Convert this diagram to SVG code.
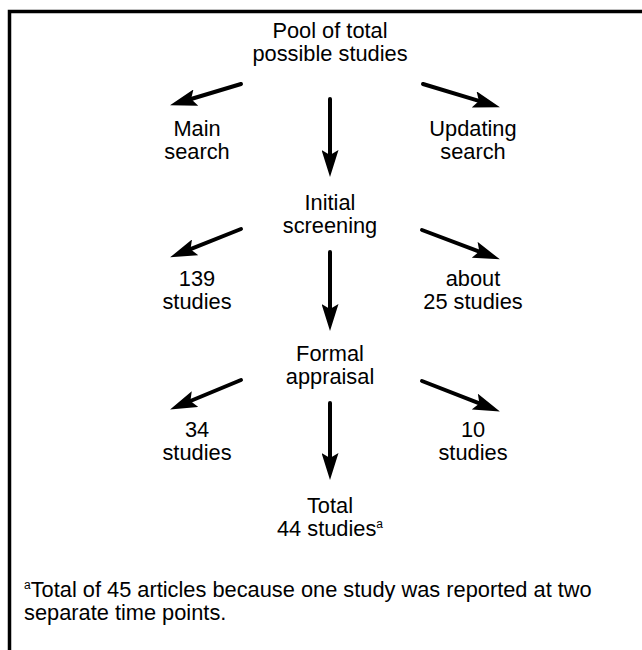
<svg xmlns="http://www.w3.org/2000/svg" width="642" height="650" viewBox="0 0 642 650">
<style>
text{font-family:"Liberation Sans",Arial,Helvetica,sans-serif;font-size:21.8px;fill:#000;text-anchor:middle}
.fn{text-anchor:start}
.sup{font-size:12px}
.c{stroke:#000;stroke-width:4;fill:none;stroke-linecap:round}
.b{stroke:#000;stroke-width:3.5;fill:none}
</style>
<defs>
<marker id="ah" markerUnits="userSpaceOnUse" markerWidth="27" markerHeight="17" viewBox="0 0 27 17" refX="5" refY="8.5" orient="auto">
<path d="M0,0 L27,8.5 L0,17 L5,8.5 Z" fill="#000"/>
</marker>
</defs>
<rect width="642" height="650" fill="#fff"/>
<path class="b" d="M9.5,650 V11.5 H642"/>
<g id="connectors">
<line class="c" x1="241" y1="84" x2="191.1" y2="99" marker-end="url(#ah)"/>
<line class="c" x1="423" y1="84" x2="478.9" y2="100.9" marker-end="url(#ah)"/>
<line class="c" x1="330" y1="99" x2="330" y2="155" marker-end="url(#ah)"/>
<line class="c" x1="241" y1="229" x2="190.5" y2="249.2" marker-end="url(#ah)"/>
<line class="c" x1="422" y1="230" x2="479.3" y2="251.6" marker-end="url(#ah)"/>
<line class="c" x1="330" y1="252" x2="330" y2="309" marker-end="url(#ah)"/>
<line class="c" x1="241" y1="380" x2="190.4" y2="401" marker-end="url(#ah)"/>
<line class="c" x1="422" y1="381" x2="479.4" y2="403.4" marker-end="url(#ah)"/>
<line class="c" x1="330" y1="403" x2="330" y2="458" marker-end="url(#ah)"/>
</g>
<g id="pool"><text x="330" y="37.5">Pool of total</text><text x="330" y="60.5">possible studies</text></g>
<g id="main"><text x="197" y="136">Main</text><text x="197" y="159">search</text></g>
<g id="updating"><text x="473" y="136">Updating</text><text x="473" y="159">search</text></g>
<g id="initial"><text x="330" y="209.5">Initial</text><text x="330" y="232.5">screening</text></g>
<g id="s139"><text x="197" y="286">139</text><text x="197" y="309">studies</text></g>
<g id="about25"><text x="473" y="286">about</text><text x="473" y="309">25 studies</text></g>
<g id="formal"><text x="330" y="360.5">Formal</text><text x="330" y="383.5">appraisal</text></g>
<g id="s34"><text x="197" y="437">34</text><text x="197" y="460">studies</text></g>
<g id="s10"><text x="473" y="437">10</text><text x="473" y="460">studies</text></g>
<g id="total"><text x="330" y="512.5">Total</text><text x="330" y="535.5">44 studies<tspan class="sup" dy="-8">a</tspan></text></g>
<g id="footnote"><text class="fn" x="24" y="596.5"><tspan class="sup" dy="-8">a</tspan><tspan dy="8">Total of 45 articles because one study was reported at two</tspan></text><text class="fn" x="24" y="619.5">separate time points.</text></g>
</svg>
